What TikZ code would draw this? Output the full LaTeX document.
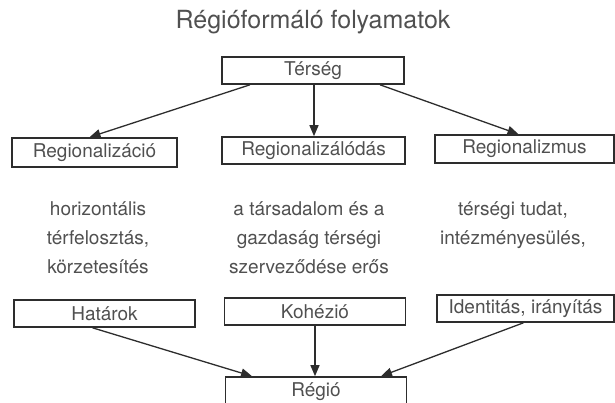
\documentclass[tikz,border=0pt]{standalone}
\usepackage{fontspec}
\setmainfont{TeX Gyre Heros}
\usepackage{tikz}
\usetikzlibrary{arrows.meta,positioning}
\definecolor{inkgray}{RGB}{80,80,80}
\definecolor{linegray}{RGB}{45,45,45}

\begin{document}
\begin{tikzpicture}[
  x=1pt, y=-1pt,
  pbox/.style={rectangle, draw=linegray, line width=1.6pt, text=inkgray, font=\fontsize{19}{22}\selectfont, inner sep=0pt, minimum height=27pt},
  ptext/.style={align=center, text=inkgray, font=\fontsize{19}{29}\selectfont, inner sep=0pt, anchor=north},
  parrow/.style={-{Triangle[length=11pt,width=9pt]}, line width=1.3pt, draw=linegray},
]
\useasboundingbox (0,0) rectangle (615,403);
\clip (0,0) rectangle (615,403);

% ─── Title ───
\node[text=inkgray, font=\fontsize{25}{30}\selectfont, anchor=base] (title) at (313, 29) {Régióformáló folyamatok};

% ─── Top box ───
\node[pbox, minimum width=182pt] (terseg) at (313, 70.5) {Térség};

% ─── Row 2 ───
\node[pbox, minimum width=165pt, minimum height=29pt] (regz) at (94.5, 152.5) {Regionalizáció};
\node[pbox, minimum width=183pt] (regd) at (313.5, 150.5) {Regionalizálódás};
\node[pbox, minimum width=179pt, minimum height=28pt] (regm) at (524.5, 149) {Regionalizmus};

% Descriptions
\node[ptext] (descz) at (98, 201) {horizontális\\térfelosztás,\\körzetesítés};
\node[ptext] (descd) at (309, 201) {a társadalom és a\\gazdaság térségi\\szerveződése erős};
\node[ptext] (descm) at (513, 201) {térségi tudat,\\intézményesülés,};

% ─── Row 3 ───
\node[pbox, minimum width=181pt] (hat) at (104.5, 313.5) {Határok};
\node[pbox, minimum width=181pt] (koh) at (315, 311.5) {Kohézió};
\node[pbox, minimum width=177pt] (ident) at (525.5, 308.5) {Identitás, irányítás};

% ─── Bottom box ───
\node[pbox, minimum width=181pt, minimum height=30pt] (regio) at (316, 392) {Régió};

% Arrows
\draw[parrow] ([xshift=-63pt]terseg.south) -- ([xshift=-5pt]regz.north);
\draw[parrow] ([xshift=1pt]terseg.south) -- ([xshift=0.5pt]regd.north);
\draw[parrow] ([xshift=67pt]terseg.south) -- ([xshift=-6pt]regm.north);
\draw[parrow] ([xshift=-12pt]hat.south) -- ([xshift=-64pt]regio.north);
\draw[parrow] (koh.south) -- (regio.north -| koh.south);
\draw[parrow] ([xshift=-2pt]ident.south) -- ([xshift=65pt]regio.north);

\end{tikzpicture}
\end{document}
